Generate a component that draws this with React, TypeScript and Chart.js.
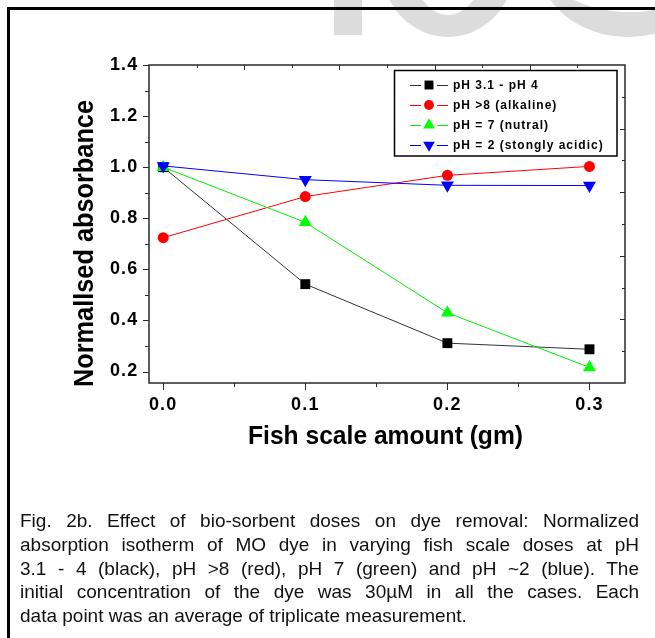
import React, { useEffect, useRef } from "react";
import { Chart, registerables } from "chart.js";

Chart.register(...registerables);

// ---- data ----
const doses = [0, 0.1, 0.2, 0.3];
const seriesLabels = ["pH 3.1 - pH 4", "pH >8 (alkaline)", "pH = 7 (nutral)", "pH = 2 (stongly acidic)"];
const absPh3to4 = [1.0, 0.542, 0.311, 0.287];
const absPhAlkaline = [0.724, 0.885, 0.968, 1.003];
const absPhNeutral = [1.0, 0.784, 0.43, 0.216];
const absPhStrongAcid = [1.005, 0.951, 0.929, 0.928];
const xTickValues = [0, 0.1, 0.2, 0.3];
const xMinorValues = [0.05, 0.15, 0.25];
const yTickValues = [0.2, 0.4, 0.6, 0.8, 1.0, 1.2, 1.4];
const yMinorValues = [0.3, 0.5, 0.7, 0.9, 1.1, 1.3];
const xTitle = "Fish scale amount (gm)";
const yTitle = "Normallsed absorbance";
const captionLines = [
  "Fig. 2b. Effect of bio-sorbent doses on dye removal: Normalized",
  "absorption isotherm of MO dye in varying fish scale doses at pH",
  "3.1 - 4 (black), pH >8 (red), pH 7 (green) and pH ~2 (blue). The",
  "initial concentration of the dye was 30\u00B5M in all the cases. Each",
  "data point was an average of triplicate measurement.",
];

// ---- styles ----
const seriesStyles = [
  { fill: "#000000", line: "#333333", point: "rect", radius: 7, rotation: 0 },
  { fill: "#ff0000", line: "#ff0000", point: "circle", radius: 5.5, rotation: 0 },
  { fill: "#00ff00", line: "#00ee00", point: "triangle", radius: 7.5, rotation: 0 },
  { fill: "#0000ff", line: "#0000ff", point: "triangle", radius: 7.5, rotation: 180 },
];
const FONT = "'Liberation Sans', Arial, Helvetica, sans-serif";

function drawMarker(ctx: CanvasRenderingContext2D, style: string, x: number, y: number, r: number, rot: number, color: string) {
  ctx.save();
  ctx.fillStyle = color;
  ctx.beginPath();
  if (style === "rect") {
    const s = r * Math.SQRT1_2;
    ctx.rect(x - s, y - s, 2 * s, 2 * s);
  } else if (style === "circle") {
    ctx.arc(x, y, r, 0, Math.PI * 2);
  } else {
    const d = rot === 180 ? -1 : 1;
    ctx.moveTo(x, y - d * r);
    ctx.lineTo(x + 0.866 * r, y + d * 0.5 * r);
    ctx.lineTo(x - 0.866 * r, y + d * 0.5 * r);
    ctx.closePath();
  }
  ctx.fill();
  ctx.restore();
}

function drawFitted(ctx: CanvasRenderingContext2D, text: string, cx: number, cy: number, font: string, targetW: number, rotate: boolean) {
  ctx.save();
  (ctx as any).letterSpacing = "0px";
  ctx.font = font;
  const w = ctx.measureText(text).width;
  ctx.translate(cx, cy);
  if (rotate) ctx.rotate(-Math.PI / 2);
  ctx.scale(targetW / w, 1);
  ctx.textAlign = "center";
  ctx.textBaseline = "alphabetic";
  ctx.fillStyle = "#000";
  ctx.fillText(text, 0, 0);
  ctx.restore();
}

const framePlugin = {
  id: "originFrame",
  beforeDraw(chart: any) {
    (chart.ctx as any).letterSpacing = "1.2px";
  },
  beforeDatasetsDraw(chart: any) {
    (chart.ctx as any).letterSpacing = "0px";
  },
  afterDraw(chart: any) {
    const ctx: CanvasRenderingContext2D = chart.ctx;
    const { left, right, top, bottom } = chart.chartArea;
    const xs = chart.scales.x;
    const ys = chart.scales.y;
    ctx.save();
    (ctx as any).letterSpacing = "0px";
    // frame
    ctx.strokeStyle = "#2a2a2a";
    ctx.lineWidth = 1.5;
    ctx.strokeRect(left, top, right - left, bottom - top);
    ctx.lineWidth = 1;
    ctx.beginPath();
    const vline = (x: number, y1: number, y2: number) => {
      const px = Math.round(x) + 0.5;
      ctx.moveTo(px, y1);
      ctx.lineTo(px, y2);
    };
    const hline = (y: number, x1: number, x2: number) => {
      const py = Math.round(y) + 0.5;
      ctx.moveTo(x1, py);
      ctx.lineTo(x2, py);
    };
    xTickValues.forEach((v) => vline(xs.getPixelForValue(v), bottom, bottom + 7));
    xMinorValues.forEach((v) => vline(xs.getPixelForValue(v), bottom, bottom + 4));
    yTickValues.forEach((v) => hline(ys.getPixelForValue(v), left - 6, left));
    yMinorValues.forEach((v) => hline(ys.getPixelForValue(v), left - 4, left));
    for (let k = 1; k <= 9; k++) {
      const len = k % 2 === 0 ? 5 : 3;
      vline(left + (k * (right - left)) / 10, top, top + len);
      hline(top + (k * (bottom - top)) / 10, right - len, right);
    }
    ctx.stroke();

    // axis titles
    drawFitted(ctx, xTitle, 385.5, 444, `bold 26px ${FONT}`, 275, false);
    drawFitted(ctx, yTitle, 93, 243.5, `bold 28px ${FONT}`, 287, true);

    // legend
    ctx.strokeStyle = "#000";
    ctx.lineWidth = 1.5;
    ctx.strokeRect(394.5, 70.5, 222.5, 85.5);
    const rows = [85, 105, 125, 145];
    seriesLabels.forEach((label, i) => {
      const st = seriesStyles[i];
      const y = rows[i];
      ctx.strokeStyle = st.line;
      ctx.lineWidth = 1;
      ctx.beginPath();
      ctx.moveTo(410, y + 0.5);
      ctx.lineTo(421, y + 0.5);
      ctx.moveTo(437, y + 0.5);
      ctx.lineTo(448, y + 0.5);
      ctx.stroke();
      drawMarker(ctx, st.point, 429, y, st.radius * 0.9, st.rotation, st.fill);
      (ctx as any).letterSpacing = "1px";
      ctx.font = `bold 12px ${FONT}`;
      ctx.fillStyle = "#000";
      ctx.textAlign = "left";
      ctx.textBaseline = "middle";
      ctx.fillText(label, 453, y + 0.5);
      (ctx as any).letterSpacing = "0px";
    });
    ctx.restore();
  },
};

export default function App() {
  const ref = useRef<HTMLCanvasElement>(null);

  useEffect(() => {
    const canvas = ref.current;
    if (!canvas) return;
    const seriesValues = [absPh3to4, absPhAlkaline, absPhNeutral, absPhStrongAcid];
    const tickFont = { family: FONT, size: 18, weight: "bold" as const };
    const chart = new Chart(canvas, {
      type: "line",
      data: {
        datasets: seriesValues.map((vals, i) => {
          const st = seriesStyles[i];
          return {
            label: seriesLabels[i],
            data: doses.map((x, j) => ({ x, y: vals[j] })),
            borderColor: st.line,
            backgroundColor: st.fill,
            pointBackgroundColor: st.fill,
            pointBorderColor: st.fill,
            pointBorderWidth: 0,
            pointStyle: st.point as any,
            pointRadius: st.radius,
            pointRotation: st.rotation,
            borderWidth: 1,
            tension: 0,
            fill: false,
            order: 4 - i,
          };
        }),
      },
      options: {
        animation: false,
        responsive: false,
        devicePixelRatio: 1,
        events: [],
        layout: { padding: { left: 0, right: 30, top: 65, bottom: 0 } },
        plugins: { legend: { display: false }, tooltip: { enabled: false }, title: { display: false } },
        scales: {
          x: {
            type: "linear",
            min: -0.01,
            max: 0.325,
            afterBuildTicks: (s: any) => {
              s.ticks = xTickValues.map((v) => ({ value: v }));
            },
            afterFit: (s: any) => {
              s.height = 87;
            },
            grid: { display: false, drawTicks: true, tickLength: 7 },
            border: { display: false },
            ticks: {
              color: "#000",
              font: tickFont,
              padding: 4,
              maxRotation: 0,
              autoSkip: false,
              callback: (v: any) => Number(v).toFixed(1),
            },
          },
          y: {
            type: "linear",
            min: 0.155,
            max: 1.4,
            afterBuildTicks: (s: any) => {
              s.ticks = yTickValues.map((v) => ({ value: v }));
            },
            afterFit: (s: any) => {
              s.width = 149;
            },
            grid: { display: false, drawTicks: true, tickLength: 6 },
            border: { display: false },
            ticks: {
              color: "#000",
              font: tickFont,
              padding: 4.5,
              autoSkip: false,
              callback: (v: any) => Number(v).toFixed(1),
            },
          },
        },
      },
      plugins: [framePlugin],
    });
    return () => chart.destroy();
  }, []);

  const wm = "#dcdcdc";
  return (
    <div
      style={{
        position: "absolute",
        left: 0,
        top: 0,
        width: 655,
        height: 638,
        overflow: "hidden",
        background: "#fff",
      }}
    >
      {/* watermark fragments */}
      <div style={{ position: "absolute", left: 334, top: -20, width: 28, height: 55, background: wm }} />
      <div style={{ position: "absolute", left: 381, top: -107, width: 134, height: 144, borderRadius: "50%", background: wm }} />
      <div style={{ position: "absolute", left: 411, top: -95, width: 74, height: 110, borderRadius: "50%", background: "#fff" }} />
      <div style={{ position: "absolute", left: 538, top: -113, width: 180, height: 150, borderRadius: "50%", background: wm }} />
      <div style={{ position: "absolute", left: 548, top: -78, width: 164, height: 90, borderRadius: "50%", background: "#fff" }} />

      <canvas
        ref={ref}
        width={655}
        height={470}
        style={{ position: "absolute", left: 0, top: 0, width: 655, height: 470 }}
      />

      {/* outer frame (top and left) */}
      <div
        style={{
          position: "absolute",
          left: 7,
          top: 7,
          width: 800,
          height: 800,
          borderLeft: "3px solid #000",
          borderTop: "3px solid #000",
          boxSizing: "border-box",
        }}
      />

      <div
        style={{
          position: "absolute",
          left: 20,
          top: 509,
          width: 619,
          fontFamily: FONT,
          fontSize: 19,
          color: "#111",
        }}
      >
        {captionLines.map((line, i) => (
          <div
            key={i}
            style={{
              height: 23.75,
              lineHeight: "23.75px",
              textAlign: i < captionLines.length - 1 ? "justify" : "left",
              textAlignLast: i < captionLines.length - 1 ? "justify" : "left",
              whiteSpace: "nowrap",
            } as React.CSSProperties}
          >
            {line}
          </div>
        ))}
      </div>
    </div>
  );
}
